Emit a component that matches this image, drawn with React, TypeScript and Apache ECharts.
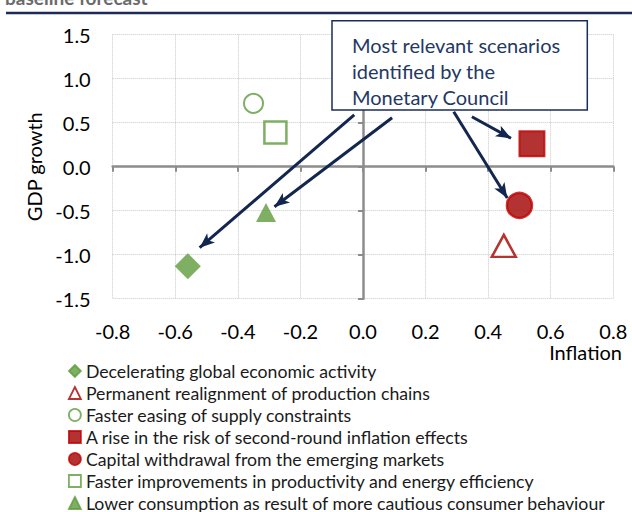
import React, { useEffect, useRef } from 'react';
import * as echarts from 'echarts';

// ---- data ----
const scenarioNames = [
  'Decelerating global economic activity',
  'Permanent realignment of production chains',
  'Faster easing of supply constraints',
  'A rise in the risk of second-round inflation effects',
  'Capital withdrawal from the emerging markets',
  'Faster improvements in productivity and energy efficiency',
  'Lower consumption as result of more cautious consumer behaviour',
];
const inflationValues = [-0.56, 0.45, -0.35, 0.54, 0.5, -0.28, -0.31];
const gdpValues = [-1.13, -0.9, 0.72, 0.26, -0.44, 0.39, -0.52];

const xMin = -0.8;
const xMax = 0.8;
const xStep = 0.2;
const yMin = -1.5;
const yMax = 1.5;
const yStep = 0.5;

const xAxisName = 'Inflation';
const yAxisName = 'GDP growth';
const annotationLines = ['Most relevant scenarios', 'identified by the', 'Monetary Council'];
const titleFragment = 'baseline forecast';

// arrows from the annotation box to scenarios (data coordinates: [inflation, gdp])
const arrowFrom = [
  [-0.028, 0.588],
  [0.093, 0.557],
  [0.29, 0.625],
  [0.348, 0.568],
];
const arrowTo = [
  [-0.522, -0.92],
  [-0.283, -0.455],
  [0.461, -0.356],
  [0.473, 0.323],
];

// ---- styles ----
const GREEN = '#5E9B3C';
const RED_FILL = '#A00000';
const RED_EDGE = '#C00000';
const NAVY = '#12264F';
const FONT = 'Lato';

const seriesStyles = [
  { symbol: 'diamond', size: 26, itemStyle: { color: GREEN, borderColor: GREEN, borderWidth: 0 } },
  { symbol: 'triangle', size: [24, 22], itemStyle: { color: '#ffffff', borderColor: '#A50000', borderWidth: 2.5 } },
  { symbol: 'circle', size: 19, itemStyle: { color: '#ffffff', borderColor: GREEN, borderWidth: 2 } },
  { symbol: 'rect', size: 25, itemStyle: { color: RED_FILL, borderColor: RED_EDGE, borderWidth: 2 } },
  { symbol: 'circle', size: 25, itemStyle: { color: RED_FILL, borderColor: RED_EDGE, borderWidth: 2.5 } },
  { symbol: 'rect', size: 22, itemStyle: { color: '#ffffff', borderColor: GREEN, borderWidth: 2.5 } },
  { symbol: 'triangle', size: [20, 19], itemStyle: { color: GREEN, borderColor: GREEN, borderWidth: 0 } },
];

const fmt = (v: number) => (Math.abs(v) < 1e-9 ? 0 : v).toFixed(1);

export default function App() {
  const ref = useRef<HTMLDivElement>(null);

  useEffect(() => {
    if (!ref.current) return;
    const chart = echarts.init(ref.current, undefined, { renderer: 'svg' });

    const gridLine = { show: true, lineStyle: { color: '#C8C8C8', type: 'dotted' as const, width: 1 } };
    const zeroLine = { color: '#8C8C8C', width: 2.5 };

    const scatterSeries = scenarioNames.map((name, i) => ({
      name,
      type: 'scatter' as const,
      xAxisIndex: 0,
      yAxisIndex: 0,
      symbol: seriesStyles[i].symbol,
      symbolSize: seriesStyles[i].size,
      itemStyle: seriesStyles[i].itemStyle,
      z: 5,
      data: [[inflationValues[i], gdpValues[i]]],
    }));

    const arrowSeries = {
      name: 'arrows',
      type: 'scatter' as const,
      xAxisIndex: 0,
      yAxisIndex: 0,
      data: [],
      z: 4,
      markLine: {
        silent: true,
        symbol: ['none', 'arrow'],
        symbolSize: [9, 15],
        label: { show: false },
        lineStyle: { color: NAVY, width: 3, type: 'solid' },
        emphasis: { disabled: true },
        data: arrowFrom.map((s, i) => [{ coord: s }, { coord: arrowTo[i] }]),
      },
    };

    chart.setOption({
      animation: false,
      textStyle: { fontFamily: FONT },
      grid: {
        left: 112.7,
        right: 18.7,
        top: 34.7,
        bottom: 213.3,
        containLabel: false,
        outerBoundsMode: 'none',
      },
      xAxis: [
        {
          type: 'value',
          min: xMin,
          max: xMax,
          interval: xStep,
          axisLine: { show: false, onZero: false },
          axisTick: { show: false },
          splitLine: gridLine,
          axisLabel: { fontSize: 20, lineHeight: 16, color: '#000', margin: 24, fontFamily: FONT, formatter: fmt },
        },
        {
          type: 'value',
          min: xMin,
          max: xMax,
          interval: xStep,
          position: 'bottom',
          axisLine: { show: true, onZero: true, lineStyle: zeroLine },
          axisTick: { show: true, length: 5, lineStyle: { color: '#8C8C8C', width: 2 } },
          axisLabel: { show: false },
          splitLine: { show: false },
        },
      ],
      yAxis: [
        {
          type: 'value',
          min: yMin,
          max: yMax,
          interval: yStep,
          position: 'left',
          axisLine: { show: false, onZero: false },
          axisTick: { show: false },
          splitLine: gridLine,
          axisLabel: { fontSize: 20, color: '#000', margin: 22, fontFamily: FONT, formatter: fmt },
          name: yAxisName,
          nameLocation: 'middle',
          nameGap: 68,
          nameTextStyle: { fontSize: 20, color: '#000', fontFamily: FONT },
        },
        {
          type: 'value',
          min: yMin,
          max: yMax,
          interval: yStep,
          position: 'left',
          axisLine: { show: true, onZero: true, lineStyle: zeroLine },
          axisTick: { show: true, length: 5, lineStyle: { color: '#8C8C8C', width: 2 } },
          axisLabel: { show: false },
          splitLine: { show: false },
        },
      ],
      legend: {
        orient: 'vertical',
        left: 68,
        top: 362,
        padding: 0,
        itemWidth: 12,
        itemHeight: 12,
        itemGap: 4,
        itemTextGap: 2,
        selectedMode: false,
        itemStyle: { borderWidth: 1.8 },
        textStyle: { fontSize: 17.7, color: '#1A1A1A', fontFamily: FONT, lineHeight: 18 },
        data: scenarioNames,
      },
      graphic: [
        {
          type: 'text',
          left: 5,
          top: -12,
          style: { text: titleFragment, fontSize: 19, fontWeight: 'bold', fill: '#6B6B6B', fontFamily: FONT },
          z: 10,
        },
        {
          type: 'line',
          shape: { x1: 6, y1: 13, x2: 632, y2: 13 },
          style: { stroke: '#1C2B55', lineWidth: 2.5 },
          z: 10,
        },
        {
          type: 'text',
          right: 10,
          top: 342,
          style: { text: xAxisName, fontSize: 20, lineHeight: 16, fill: '#000', fontFamily: FONT },
          z: 10,
        },
        {
          type: 'rect',
          shape: { x: 332, y: 20.7, width: 255.3, height: 89.3 },
          style: { fill: '#ffffff', stroke: '#1B2D57', lineWidth: 1.5 },
          z: 20,
        },
        {
          type: 'text',
          x: 352,
          y: 32,
          style: {
            text: annotationLines.join('\n'),
            fontSize: 20,
            lineHeight: 26,
            fill: '#1F3864',
            fontFamily: FONT,
            verticalAlign: 'top',
          },
          z: 21,
        },
      ],
      series: [...scatterSeries, arrowSeries],
    });

    return () => chart.dispose();
  }, []);

  return (
    <div
      ref={ref}
      style={{ position: 'fixed', left: 0, top: 0, width: 632, height: 512, background: '#ffffff' }}
    />
  );
}
